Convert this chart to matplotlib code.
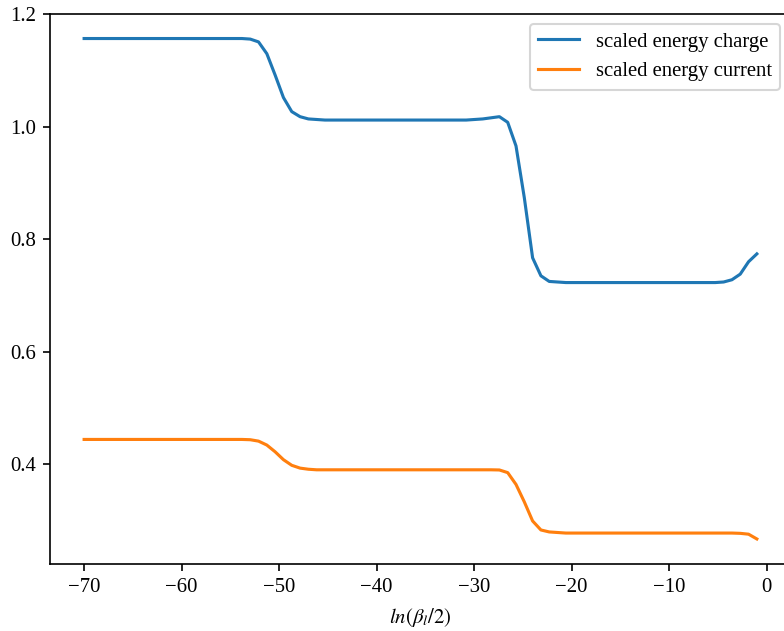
import numpy as np
import matplotlib
matplotlib.use("Agg")
import matplotlib.pyplot as plt

plt.rcParams["font.family"] = "serif"
plt.rcParams["font.serif"] = ["Liberation Serif", "DejaVu Serif"]
plt.rcParams["mathtext.fontset"] = "stix"

# ln(beta_l / 2) sample points
x = np.linspace(-70, -1, 82)

energy_charge = (
    [1.157] * 20
    + [1.156, 1.151, 1.130, 1.092, 1.052, 1.027, 1.018, 1.014, 1.013]
    + [1.012] * 18
    + [1.013, 1.014, 1.016, 1.018, 1.008, 0.966, 0.874, 0.767, 0.735, 0.725, 0.724]
    + [0.723] * 19
    + [0.724, 0.728, 0.738, 0.760, 0.774]
)

energy_current = (
    [0.444] * 20
    + [0.4435, 0.441, 0.434, 0.422, 0.408, 0.398, 0.393, 0.391]
    + [0.390] * 22
    + [0.3897, 0.385, 0.364, 0.333, 0.299, 0.283, 0.2795, 0.2785]
    + [0.2775] * 21
    + [0.277, 0.2755, 0.267]
)

DPI = 149
fig = plt.figure(figsize=(785 / DPI, 631 / DPI), dpi=DPI)
ax = fig.add_axes([0.0643, 0.1062, 0.9427, 0.8724])

ax.plot(x, energy_charge, label="scaled energy charge")
ax.plot(x, energy_current, label="scaled energy current")

ax.set_xlabel(r"$ln(\beta_l/2)$")
ax.legend(loc="upper right")

fig.savefig("out.png", dpi=DPI)
